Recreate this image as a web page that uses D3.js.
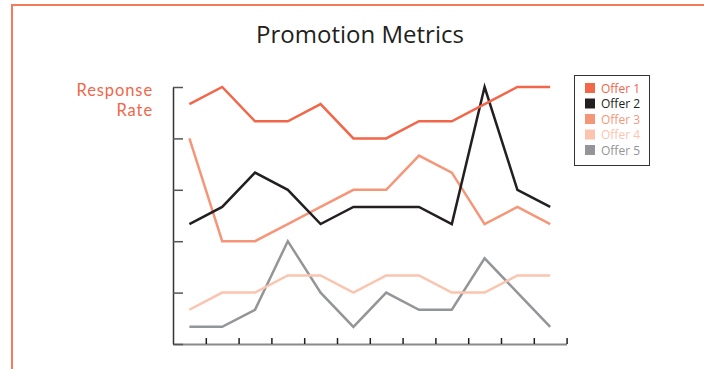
<!DOCTYPE html>
<html>
<head>
<meta charset="utf-8">
<script src="https://cdn.jsdelivr.net/npm/d3@7"></script>
<style>
  body { margin: 0; background: #fff; }
  svg { display: block; font-family: "Open Sans", "DejaVu Sans", sans-serif; }
  .axis text { display: none; }
</style>
</head>
<body>
<svg id="chart"></svg>
<script>
// periods along the x axis (no labels are shown in the chart)
const periods = ["P1", "P2", "P3", "P4", "P5", "P6", "P7", "P8", "P9", "P10", "P11", "P12"];
const offerNames = ["Offer 1", "Offer 2", "Offer 3", "Offer 4", "Offer 5"];
const offerColors = ["#f26649", "#231f20", "#f69679", "#fbc4ae", "#939598"];

const offer1 = [14, 15, 13, 13, 14, 12, 12, 13, 13, 14, 15, 15];
const offer2 = [7, 8, 10, 9, 7, 8, 8, 8, 7, 15, 9, 8];
const offer3 = [12, 6, 6, 7, 8, 9, 9, 11, 10, 7, 8, 7];
const offer4 = [2, 3, 3, 4, 4, 3, 4, 4, 3, 3, 4, 4];
const offer5 = [1, 1, 2, 6, 3, 1, 3, 2, 2, 5, 3, 1];

const yTicks = [0, 3, 6, 9, 12, 15];
const yTitle = ["Response", "Rate"];

const series = [offer1, offer2, offer3, offer4, offer5].map((values, i) => ({
    name: offerNames[i],
    color: offerColors[i],
    values: values
}));

const width = 704, height = 369;
const margin = {top: 87, left: 173, right: 137.4, bottom: 25};

const svg = d3.select("#chart")
    .attr("width", width)
    .attr("height", height);

// outer frame, runs off the right and bottom edges
svg.append("rect")
    .attr("x", 12)
    .attr("y", 5)
    .attr("width", 760)
    .attr("height", 420)
    .attr("fill", "none")
    .attr("stroke", "#f37a5d")
    .attr("stroke-width", 2);

svg.append("text")
    .attr("x", 360)
    .attr("y", 43)
    .attr("text-anchor", "middle")
    .attr("font-size", 24)
    .attr("fill", "#231f20")
    .text("Promotion Metrics");

// two separate lines for the axis title
svg.selectAll(".y-title")
    .data(yTitle)
    .join("text")
    .attr("class", "y-title")
    .attr("x", 153)
    .attr("y", (d, i) => 96 + i * 19.5)
    .attr("text-anchor", "end")
    .attr("font-family", "Lato, 'Open Sans', sans-serif")
    .attr("font-size", 16.5)
    .attr("letter-spacing", 0.9)
    .attr("fill", "#f26649")
    .text(d => d);

const x = d3.scaleBand()
    .domain(periods)
    .range([margin.left, width - margin.right]);

// band edges for the x tick marks
const xEdge = d3.scaleLinear()
    .domain([0, periods.length])
    .range([margin.left, width - margin.right]);

const y = d3.scaleLinear()
    .domain([0, 15])
    .range([height - margin.bottom, margin.top]);

const xAxis = d3.axisBottom(xEdge)
    .tickValues(d3.range(1, periods.length + 1))
    .tickSize(-6)
    .tickSizeOuter(0)
    .tickFormat("");

const yAxis = d3.axisLeft(y)
    .tickValues(yTicks)
    .tickSize(-10)
    .tickSizeOuter(0)
    .tickFormat("");

svg.append("g")
    .attr("class", "axis x-axis")
    .attr("transform", `translate(0,${height - margin.bottom})`)
    .call(xAxis)
    .call(g => g.select(".domain").attr("stroke", "#8a8a8a").attr("stroke-width", 2))
    .call(g => g.selectAll(".tick line").attr("stroke", "#231f20").attr("stroke-width", 1.5));

svg.append("g")
    .attr("class", "axis y-axis")
    .attr("transform", `translate(${margin.left},0)`)
    .call(yAxis)
    .call(g => g.select(".domain").attr("stroke", "#333").attr("stroke-width", 1.5))
    .call(g => g.selectAll(".tick line").attr("stroke", "#555").attr("stroke-width", 1.5));

const line = d3.line()
    .x((d, i) => x(periods[i]) + x.bandwidth() / 2)
    .y(d => y(d));

// draw back to front so Offer 1 ends up on top
svg.append("g")
    .selectAll("path")
    .data(series.slice().reverse())
    .join("path")
    .attr("d", d => line(d.values))
    .attr("fill", "none")
    .attr("stroke", d => d.color)
    .attr("stroke-width", 2.5)
    .attr("stroke-linejoin", "miter");

// legend
const legend = svg.append("g").attr("transform", "translate(574,75)");
legend.append("rect")
    .attr("x", 0.5)
    .attr("y", 0.5)
    .attr("width", 75)
    .attr("height", 90)
    .attr("fill", "#fff")
    .attr("stroke", "#333")
    .attr("stroke-width", 1);

const items = legend.selectAll(".item")
    .data(series)
    .join("g")
    .attr("class", "item")
    .attr("transform", (d, i) => `translate(11,${8 + i * 15.5})`);

items.append("rect")
    .attr("width", 10)
    .attr("height", 10)
    .attr("fill", d => d.color);

items.append("text")
    .attr("x", 16)
    .attr("y", 9.5)
    .attr("font-size", 12)
    .attr("fill", d => d.color)
    .text(d => d.name);
</script>
</body>
</html>
